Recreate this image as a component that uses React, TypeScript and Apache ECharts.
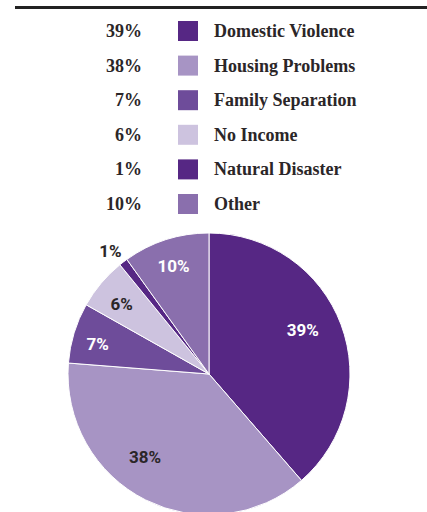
import React, { useEffect, useRef } from "react";
import * as echarts from "echarts";

const categories = ["Domestic Violence", "Housing Problems", "Family Separation", "No Income", "Natural Disaster", "Other"];
const values = [39, 38, 7, 6, 1, 10];
const colors = ["#562784", "#a794c4", "#6e4c9a", "#cdc3df", "#562784", "#8a6fad"];
const labelColors = ["#ffffff", "#2b2628", "#ffffff", "#2b2628", "#2b2628", "#ffffff"];
const labelOffsets = [[25, -18], [-31, 17], [-41, -9], [-31, -23], [-54, -65], [-13, -38]];

export default function App() {
  const ref = useRef<HTMLDivElement>(null);
  useEffect(() => {
    if (!ref.current) return;
    const chart = echarts.init(ref.current, undefined, { renderer: "svg" });
    const rowTop = 21;
    const rowPitch = 34.6;
    const legendGraphics: any[] = [];
    categories.forEach((c, i) => {
      const y = rowTop + i * rowPitch;
      legendGraphics.push({
        type: "text",
        x: 142,
        y: y + 10,
        style: {
          text: values[i] + "%",
          fill: "#2b2628",
          font: "bold 18px 'Liberation Serif', 'Times New Roman', serif",
          textAlign: "right",
          textVerticalAlign: "middle",
        },
      });
      legendGraphics.push({
        type: "rect",
        shape: { x: 178, y: y, width: 20, height: 20 },
        style: { fill: colors[i] },
      });
      legendGraphics.push({
        type: "text",
        x: 214,
        y: y + 10,
        style: {
          text: c,
          fill: "#2b2628",
          font: "bold 18px 'Liberation Serif', 'Times New Roman', serif",
          textAlign: "left",
          textVerticalAlign: "middle",
        },
      });
    });
    chart.setOption({
      animation: false,
      graphic: [
        {
          type: "line",
          shape: { x1: 15, y1: 7.5, x2: 427, y2: 7.5 },
          style: { stroke: "#222222", lineWidth: 3 },
        },
        ...legendGraphics,
      ],
      series: [
        {
          type: "pie",
          center: [209, 374],
          radius: [0, 141],
          startAngle: 90,
          clockwise: true,
          avoidLabelOverlap: false,
          labelLine: { show: false },
          itemStyle: { borderColor: "#ffffff", borderWidth: 1 },
          emphasis: { disabled: true },
          data: categories.map((c, i) => ({
            name: c,
            value: values[i],
            itemStyle: { color: colors[i] },
            label: {
              show: true,
              position: "inside",
              formatter: "{c}%",
              color: labelColors[i],
              fontFamily: "Roboto, 'Open Sans', sans-serif",
              fontWeight: "bold",
              fontSize: 17,
              offset: labelOffsets[i],
            },
          })),
        },
      ],
    });
    return () => chart.dispose();
  }, []);
  return (
    <div
      ref={ref}
      style={{ position: "fixed", left: 0, top: 0, width: 427, height: 512, background: "#ffffff" }}
    />
  );
}
